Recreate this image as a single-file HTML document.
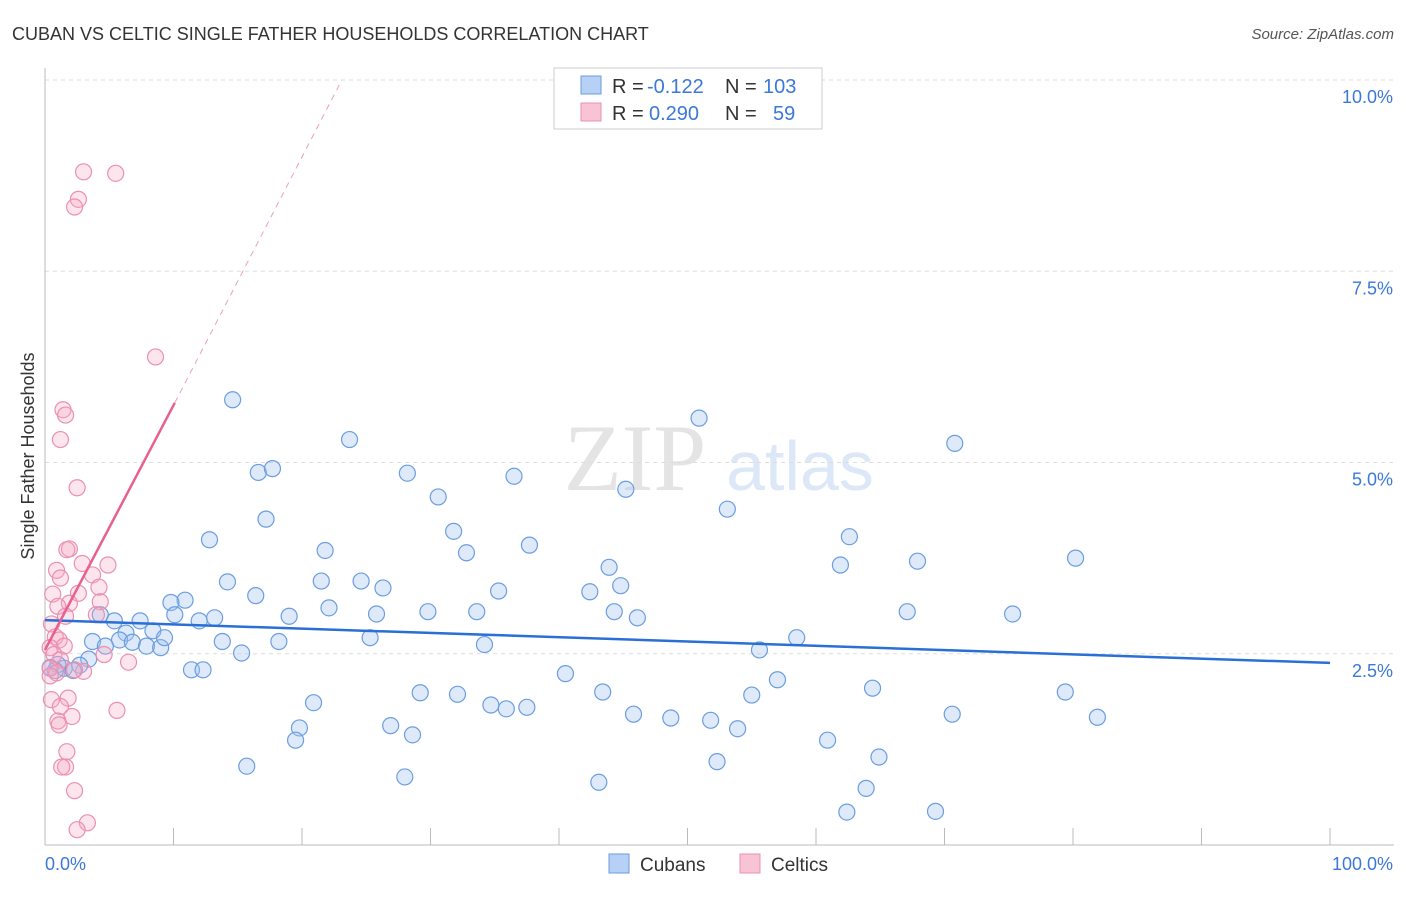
<!DOCTYPE html>
<html><head><meta charset="utf-8"><style>
body{margin:0;background:#fff;font-family:"Liberation Sans",sans-serif;}
</style></head><body>
<svg id="c" width="1406" height="892" xmlns="http://www.w3.org/2000/svg"></svg>
<script>
const xTicks=[0,10,20,30,40,50,60,70,80,90,100];
const yTicks=[2.5,5.0,7.5,10.0];
const cubanX=[14.6,23.7,50.9,70.8,16.6,17.7,28.2,36.5,30.6,45.2,17.2,53.1,12.8,31.8,62.6,21.8,37.7,32.8,80.2,61.9,67.9,43.9,14.2,21.5,24.6,26.3,44.8,35.3,42.4,16.4,10.9,9.8,10.1,12.0,13.2,19.0,22.1,25.8,29.8,33.6,44.3,46.1,67.1,75.3,7.4,5.4,6.3,4.3,3.7,4.7,5.8,6.8,7.9,9.0,8.4,9.3,13.8,18.2,25.3,34.2,58.5,55.6,15.3,11.4,12.3,3.4,2.7,1.5,1.0,2.2,40.5,57.0,20.9,29.2,32.1,43.4,55.0,64.4,79.4,34.7,35.9,37.5,45.8,48.7,51.8,70.6,81.9,26.9,19.8,28.6,53.9,19.5,60.9,15.7,52.3,64.9,28.0,43.1,63.9,62.4,69.3,0.8,0.4];
const cubanY=[5.82,5.30,5.58,5.25,4.87,4.92,4.86,4.82,4.55,4.65,4.26,4.39,3.99,4.10,4.03,3.85,3.92,3.82,3.75,3.66,3.71,3.63,3.44,3.45,3.45,3.36,3.39,3.32,3.31,3.26,3.20,3.17,3.01,2.93,2.97,2.99,3.10,3.02,3.05,3.05,3.05,2.97,3.05,3.02,2.93,2.93,2.77,3.01,2.66,2.60,2.68,2.65,2.60,2.58,2.80,2.71,2.66,2.66,2.71,2.62,2.71,2.55,2.51,2.29,2.29,2.43,2.35,2.31,2.36,2.28,2.24,2.16,1.86,1.99,1.97,2.00,1.96,2.05,2.00,1.83,1.78,1.80,1.71,1.66,1.63,1.71,1.67,1.56,1.53,1.44,1.52,1.37,1.37,1.03,1.09,1.15,0.89,0.82,0.74,0.43,0.44,2.28,2.32];
const celticX=[3.0,5.5,2.6,2.3,8.6,1.4,1.6,1.2,2.5,1.9,1.7,2.9,4.9,0.9,1.2,3.7,4.2,2.6,0.6,1.9,1.0,4.3,1.6,4.0,0.5,0.8,1.1,1.5,0.4,4.6,6.5,0.7,1.2,0.4,0.9,3.0,2.3,0.4,0.5,1.8,1.2,5.6,2.1,1.0,1.1,1.7,1.6,1.3,2.3,3.3,2.5];
const celticY=[8.80,8.78,8.44,8.34,6.38,5.69,5.62,5.30,4.67,3.87,3.86,3.68,3.66,3.59,3.49,3.53,3.37,3.29,3.28,3.16,3.12,3.18,2.99,3.01,2.89,2.72,2.68,2.60,2.58,2.49,2.39,2.49,2.42,2.31,2.25,2.27,2.29,2.21,1.90,1.92,1.81,1.76,1.68,1.62,1.57,1.22,1.02,1.02,0.71,0.29,0.20];
const blueLine=[2.94,2.38];
const pinkLine=[[0,2.55],[10.1,5.78]];
const pinkDash=[[10.1,5.78],[23.1,10.0]];
const svg=document.getElementById('c');const NS='http://www.w3.org/2000/svg';
const X=v=>45+v*12.85, Y=v=>845-v*76.5;
function el(t,a,p){const e=document.createElementNS(NS,t);for(const k in a)e.setAttribute(k,a[k]);(p||svg).appendChild(e);return e;}
function txt(s,a){const e=el('text',a);e.textContent=s;return e;}
txt('CUBAN VS CELTIC SINGLE FATHER HOUSEHOLDS CORRELATION CHART',{x:12,y:40,'font-size':18,fill:'#333',});
txt('Source: ZipAtlas.com',{x:1394,y:39,'font-size':15,fill:'#555','font-style':'italic','text-anchor':'end',});
txt('ZIP',{x:635,y:490,'font-size':95,fill:'#e4e4e4','font-family':'Liberation Serif','text-anchor':'middle',});
txt('atlas',{x:800,y:490,'font-size':70,fill:'#dce8f7','text-anchor':'middle',});
yTicks.forEach(v=>{const g=el('line',{x1:45,x2:1394,y1:Y(v),y2:Y(v),stroke:'#ddd','stroke-dasharray':'4,4'});


const t=txt(v.toFixed(1)+'%',{x:1393,y:Y(v)+23,'font-size':18,fill:'#3b78d8','text-anchor':'end'});

});
el('line',{x1:45,x2:45,y1:68,y2:845,stroke:'#bbb',});
el('line',{x1:45,x2:1394,y1:845,y2:845,stroke:'#bbb',});
xTicks.forEach(v=>{if(v>0){const l=el('line',{x1:X(v),x2:X(v),y1:828,y2:845,stroke:'#bbb'});

}});
txt('0.0%',{x:45,y:870,'font-size':18,fill:'#3b78d8',});
txt('100.0%',{x:1393,y:870,'font-size':18,fill:'#3b78d8','text-anchor':'end',});
txt('Single Father Households',{x:34,y:456,'font-size':18,fill:'#333','text-anchor':'middle',transform:'rotate(-90 34 456)',});
cubanX.forEach((v,i)=>{const c=el('circle',{cx:X(v),cy:Y(cubanY[i]),r:8,fill:'rgba(160,195,240,0.35)',stroke:'#6b9de0','stroke-width':1.2});

});
celticX.forEach((v,i)=>{const c=el('circle',{cx:X(v),cy:Y(celticY[i]),r:8,fill:'rgba(245,170,195,0.3)',stroke:'#ec8fb0','stroke-width':1.2});

});
el('line',{x1:X(0),y1:Y(blueLine[0]),x2:X(100),y2:Y(blueLine[1]),stroke:'#2a6fd6','stroke-width':2.5,});
el('line',{x1:X(pinkLine[0][0]),y1:Y(pinkLine[0][1]),x2:X(pinkLine[1][0]),y2:Y(pinkLine[1][1]),stroke:'#e8608f','stroke-width':2.5,});
el('line',{x1:X(pinkDash[0][0]),y1:Y(pinkDash[0][1]),x2:X(pinkDash[1][0]),y2:Y(pinkDash[1][1]),stroke:'#eba0ba','stroke-width':1,'stroke-dasharray':'6,5',});
const lg=el('g',{});
el('rect',{x:554,y:68,width:268,height:61,fill:'#fff',stroke:'#ccc'},lg);
el('rect',{x:581,y:76,width:20,height:18,fill:'#b7d0f5',stroke:'#6b9de0'},lg);
el('rect',{x:581,y:103,width:20,height:18,fill:'#f8c3d4',stroke:'#ec8fb0'},lg);
[['R = ',612,93,'#333'],['-0.122',647,93,'#3b78d8'],['N = ',725,93,'#333'],['103',763,93,'#3b78d8'],['R = ',612,120,'#333'],['0.290',649,120,'#3b78d8'],['N = ',725,120,'#333'],['59',773,120,'#3b78d8']].forEach(a=>{const t=txt(a[0],{x:a[1],y:a[2],'font-size':20,fill:a[3]});


lg.appendChild(t);});
const bl=el('g',{});
el('rect',{x:609,y:854,width:20,height:19,fill:'#b7d0f5',stroke:'#6b9de0',},bl);
txt('Cubans',{x:640,y:871,'font-size':19,fill:'#333',});
el('rect',{x:740,y:854,width:20,height:19,fill:'#f8c3d4',stroke:'#ec8fb0',},bl);
txt('Celtics',{x:771,y:871,'font-size':19,fill:'#333',});
</script>
</body></html>
